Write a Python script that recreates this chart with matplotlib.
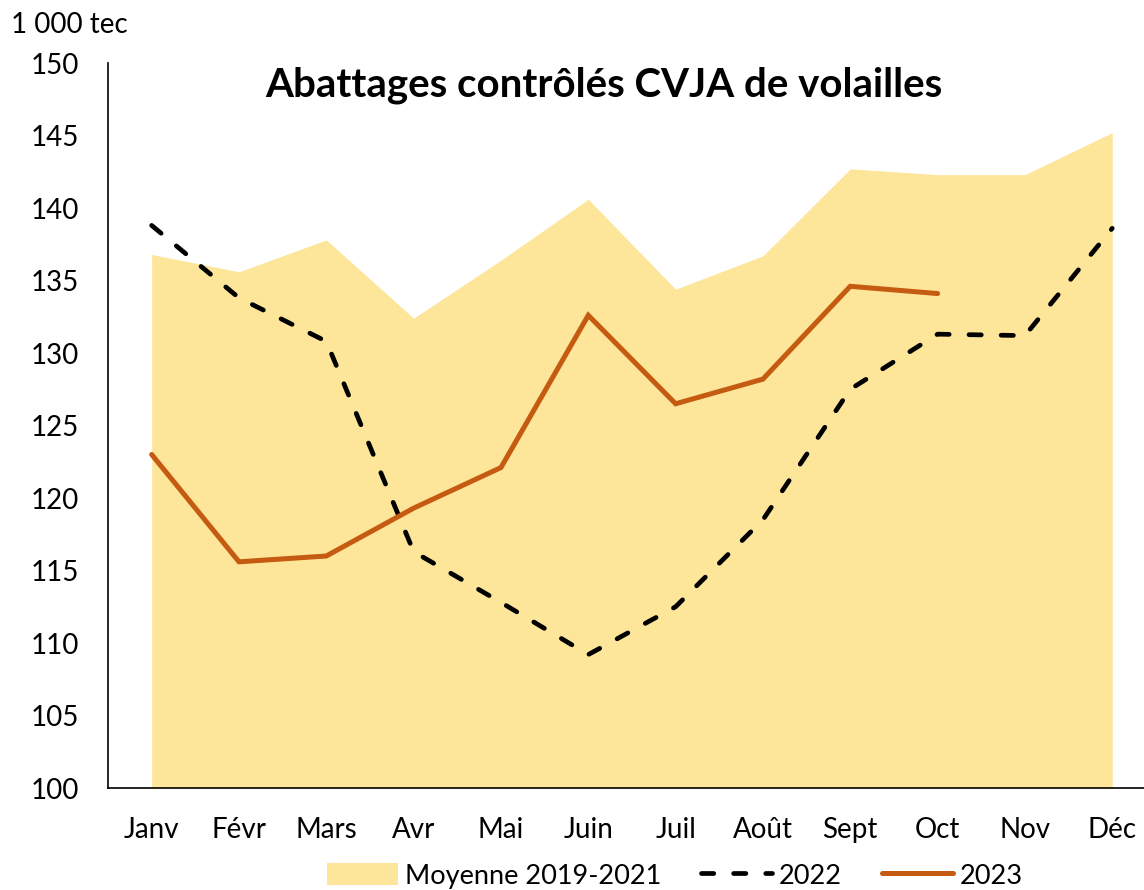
import matplotlib.pyplot as plt
from matplotlib.patches import Patch
from matplotlib.lines import Line2D
import numpy as np

months = ['Janv', 'Févr', 'Mars', 'Avr', 'Mai', 'Juin', 'Juil', 'Août', 'Sept', 'Oct', 'Nov', 'Déc']
moyenne = [136.8, 135.6, 137.8, 132.4, 136.4, 140.6, 134.4, 136.7, 142.7, 142.3, 142.3, 145.2]
y2022 = [138.8, 133.8, 130.8, 116.3, 112.8, 109.2, 112.5, 118.5, 127.5, 131.3, 131.2, 138.6]
y2023 = [123.0, 115.6, 116.0, 119.3, 122.1, 132.6, 126.5, 128.2, 134.6, 134.1]

plt.rcParams['font.family'] = ['Lato', 'DejaVu Sans']

AREA = '#FDE599'
ORANGE = '#C55A11'

fig = plt.figure(figsize=(11.44, 8.9), dpi=100)
ax = fig.add_axes([0.0944, 0.1146, 0.916, 0.8146])

x = np.arange(len(months))
ax.fill_between(x, 100, moyenne, color=AREA, linewidth=0)

ax.plot(x, y2022, color='black', linewidth=3.4, linestyle=(0, (2.6, 4.2)),
        dash_capstyle='round', dash_joinstyle='round')
ax.plot(np.arange(len(y2023)), y2023, color=ORANGE, linewidth=3.6,
        solid_capstyle='round', solid_joinstyle='miter')

ax.set_xlim(-0.5, 11.5)
ax.set_ylim(100, 150)
ax.set_yticks(range(100, 151, 5))
ax.set_xticks(x)
ax.set_xticklabels(months)
ax.tick_params(length=0, labelsize=20)
ax.tick_params(axis='x', pad=21)
ax.tick_params(axis='y', pad=21)
ax.spines['top'].set_visible(False)
ax.spines['right'].set_visible(False)
ax.spines['left'].set_linewidth(1.2)
ax.spines['bottom'].set_linewidth(1.2)

fig.text(0.528, 0.9045, 'Abattages contrôlés CVJA de volailles', ha='center', va='center',
         fontsize=29, fontweight='bold')
fig.text(0.010, 0.972, '1 000 tec', ha='left', va='center', fontsize=20)

handles = [Patch(facecolor=AREA, edgecolor='none'),
           Line2D([], [], color='black', linewidth=3.4, linestyle=(0, (2.6, 4.2)),
                  dash_capstyle='round'),
           Line2D([], [], color=ORANGE, linewidth=3.6, solid_capstyle='round')]
fig.legend(handles, ['Moyenne 2019-2021', '2022', '2023'], loc='center', ncol=3,
           bbox_to_anchor=(0.590, 0.016), frameon=False, fontsize=19.5,
           handlelength=2.6, handleheight=0.9, handletextpad=0.25, columnspacing=1.5)

fig.savefig('out.png', dpi=100)
